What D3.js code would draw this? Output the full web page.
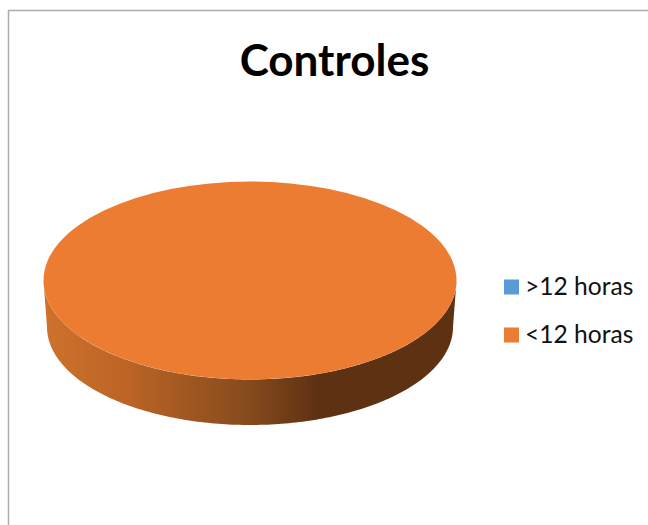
<!DOCTYPE html>
<html><head><meta charset="utf-8">
<script src="https://cdn.jsdelivr.net/npm/d3@7"></script>
<style>html,body{margin:0;padding:0;background:#fff}svg{display:block}</style>
</head><body><div id="chart"></div>
<script>
const titleText = "Controles";
const categories = [">12 horas", "<12 horas"];
const values = [0, 100];
const colors = ["#5B9BD5", "#EB7C31"];
const sideStops = [[0, "#CE722C"], [0.2, "#BC6426"], [0.5, "#854A1C"], [0.66, "#5F3113"], [1, "#5F3113"]];

const W = 648, H = 525;
const svg = d3.select("#chart").append("svg").attr("width", W).attr("height", H);
svg.append("rect").attr("width", W).attr("height", H).attr("fill", "#fff");
svg.append("path").attr("d", `M8.5,${H} V10.5 H${W}`).attr("fill", "none").attr("stroke", "#ABABAB").attr("stroke-width", 1.5);

svg.append("text").attr("x", 334.5).attr("y", 76).attr("text-anchor", "middle")
  .attr("font-family", "Lato").attr("font-weight", 700).attr("font-size", 44).attr("fill", "#000").text(titleText);

const cx = 250, cy = 280.5, rx = 206.5, ry = 99, botRx = 203, botRy = 98, botCy = 327;
const defs = svg.append("defs");
const grad = defs.append("linearGradient").attr("id", "side").attr("gradientUnits", "userSpaceOnUse")
  .attr("x1", cx - rx).attr("x2", cx + rx).attr("y1", 0).attr("y2", 0);
grad.selectAll("stop").data(sideStops).join("stop").attr("offset", d => d[0]).attr("stop-color", d => d[1]);

const sideX = d3.scaleLinear().domain([-1, 1]).range([cx - rx, cx + rx]);
const sideXBottom = d3.scaleLinear().domain([-1, 1]).range([cx - botRx, cx + botRx]);
const degrees = d3.range(0, 181, 1);
const sidePts = [
  ...degrees.map(a => { const r = a * Math.PI / 180; return [sideX(-Math.cos(r)), cy + ry * Math.sin(r)]; }),
  ...degrees.slice().reverse().map(a => { const r = a * Math.PI / 180; return [sideXBottom(-Math.cos(r)), botCy + botRy * Math.sin(r)]; })
];
svg.append("path").attr("d", d3.line()(sidePts) + "Z").attr("fill", "url(#side)");

const pie = d3.pie().sort(null).startAngle(Math.PI / 2).endAngle(Math.PI * 2.5);
const arc = d3.arc().innerRadius(0).outerRadius(rx);
svg.append("g").attr("transform", `translate(${cx},${cy}) scale(1,${ry / rx})`)
  .selectAll("path").data(pie(values)).join("path")
  .attr("d", arc).attr("fill", (d, i) => colors[i]);

const legendY = d3.scalePoint().domain(categories).range([287, 335]);
const lg = svg.append("g").selectAll("g").data(categories).join("g")
  .attr("transform", d => `translate(504,${legendY(d)})`);
lg.append("rect").attr("x", 0).attr("y", -7.5).attr("width", 15).attr("height", 15).attr("fill", (d, i) => colors[i]);
lg.append("text").attr("x", 21).attr("y", 8).attr("font-family", "Lato").attr("font-size", 24.6).attr("fill", "#111").text(d => d);
</script></body></html>
